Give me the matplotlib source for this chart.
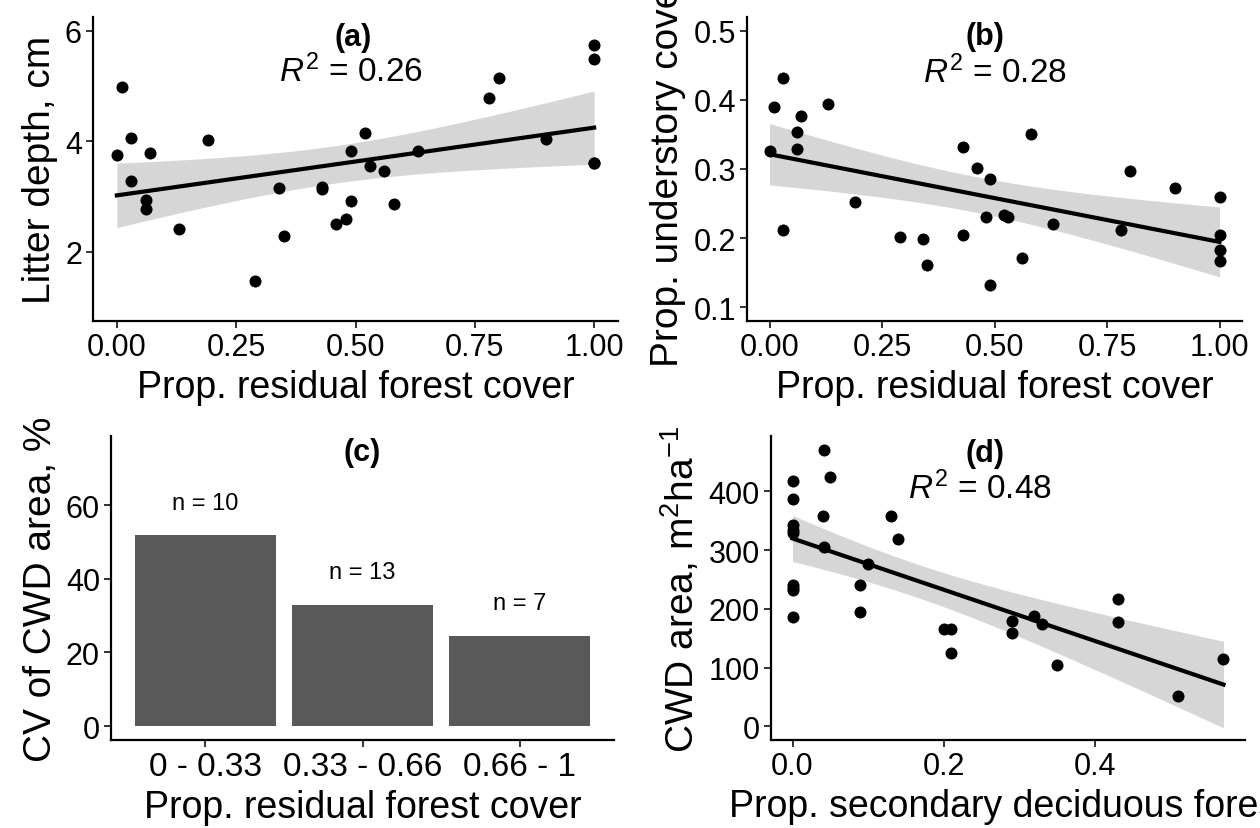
import numpy as np
import matplotlib
matplotlib.use("Agg")
import matplotlib.pyplot as plt

plt.rcParams['font.family'] = ['Liberation Sans', 'DejaVu Sans']
plt.rcParams['mathtext.fontset'] = 'custom'
plt.rcParams['mathtext.rm'] = 'Liberation Sans'
plt.rcParams['mathtext.it'] = 'Liberation Sans:italic'
plt.rcParams['mathtext.bf'] = 'Liberation Sans:bold'

# ---------------- data ----------------
# (a) litter depth vs residual forest cover
a_x = [0.00, 0.01, 0.03, 0.03, 0.07, 0.06, 0.06, 0.13, 0.19, 0.29,
       0.34, 0.35, 0.43, 0.43, 0.46, 0.48, 0.49, 0.49, 0.52, 0.53,
       0.56, 0.58, 0.63, 0.78, 0.80, 0.90, 1.00, 1.00, 1.00, 1.00]
a_y = [3.75, 4.99, 4.06, 3.28, 3.79, 2.94, 2.78, 2.42, 4.02, 1.48,
       3.15, 2.28, 3.18, 3.13, 2.51, 2.59, 3.83, 2.93, 4.15, 3.56,
       3.47, 2.87, 3.82, 4.78, 5.14, 4.04, 5.75, 5.49, 3.61, 3.61]

# (b) understory cover vs residual forest cover
b_x = [0.00, 0.01, 0.03, 0.03, 0.06, 0.06, 0.07, 0.13, 0.19, 0.29,
       0.34, 0.35, 0.43, 0.43, 0.46, 0.48, 0.49, 0.49, 0.52, 0.53,
       0.56, 0.58, 0.63, 0.78, 0.80, 0.90, 1.00, 1.00, 1.00, 1.00]
b_y = [0.326, 0.390, 0.431, 0.212, 0.354, 0.329, 0.377, 0.394, 0.252, 0.201,
       0.198, 0.161, 0.332, 0.205, 0.301, 0.230, 0.285, 0.132, 0.233, 0.230,
       0.171, 0.351, 0.220, 0.212, 0.297, 0.272, 0.259, 0.205, 0.183, 0.167]

# (c) CV of CWD area by cover class
c_cats = ['0 - 0.33', '0.33 - 0.66', '0.66 - 1']
c_vals = [51.8, 33.0, 24.5]
c_n = ['n = 10', 'n = 13', 'n = 7']

# (d) CWD area vs secondary deciduous forest
d_x = [0.00, 0.00, 0.00, 0.00, 0.00, 0.00, 0.00, 0.00, 0.00, 0.041,
       0.050, 0.040, 0.041, 0.100, 0.089, 0.089, 0.130, 0.140, 0.200, 0.210,
       0.210, 0.290, 0.290, 0.320, 0.330, 0.350, 0.430, 0.430, 0.510, 0.570]
d_y = [417, 388, 342, 335, 329, 241, 236, 232, 186, 471,
       424, 358, 305, 277, 241, 195, 359, 319, 166, 166,
       124, 180, 159, 187, 174, 104, 216, 178, 52, 114]

T95 = 2.05  # t quantile for 95% CI

POINT = '#000000'
BAND = '#d6d6d6'
BAR = '#595959'

TICK = 22
TITLE_X = 27
TITLE_Y = 28

W, H = 1260, 829
fig = plt.figure(figsize=(W / 100, H / 100), dpi=100)


def add_ax(l, r, t, b):
    return fig.add_axes([l / W, 1 - b / H, (r - l) / W, (b - t) / H])


def style(ax):
    for s in ['top', 'right']:
        ax.spines[s].set_visible(False)
    for s in ['left', 'bottom']:
        ax.spines[s].set_linewidth(1.6)
        ax.spines[s].set_color('black')
    ax.tick_params(axis='both', labelsize=TICK, length=5, width=1.4,
                   color='#333333', labelcolor='black', pad=3)


def lm_band(ax, x, y, xlo, xhi):
    x = np.asarray(x, float)
    y = np.asarray(y, float)
    n = len(x)
    slope, icpt = np.polyfit(x, y, 1)
    resid = y - (icpt + slope * x)
    s = np.sqrt(np.sum(resid ** 2) / (n - 2))
    xm = x.mean()
    sxx = np.sum((x - xm) ** 2)
    xs = np.linspace(xlo, xhi, 80)
    fit = icpt + slope * xs
    se = s * np.sqrt(1 / n + (xs - xm) ** 2 / sxx)
    ax.fill_between(xs, fit - T95 * se, fit + T95 * se, color=BAND, lw=0, zorder=1)
    ax.plot(xs, fit, color='black', lw=3, zorder=3)


def r2text(ax, x, y, val):
    ax.text(x, y, r'$\mathit{R}^{2}$' + ' = ' + val, ha='center', va='center',
            fontsize=24, zorder=5)


def tag(ax, x, y, s):
    ax.text(x, y, s, ha='center', va='center', fontsize=22, fontweight='bold', zorder=5)


# ---------- panel a ----------
axA = add_ax(93, 618, 18, 322)
style(axA)
lm_band(axA, a_x, a_y, 0, 1)
axA.scatter(a_x, a_y, s=75, color=POINT, zorder=4, linewidths=0)
axA.set_xlim(-0.05, 1.05)
axA.set_ylim(0.75, 6.25)
axA.set_xticks([0, 0.25, 0.5, 0.75, 1.0])
axA.set_xticklabels(['0.00', '0.25', '0.50', '0.75', '1.00'])
axA.set_yticks([2, 4, 6])
axA.set_xlabel('Prop. residual forest cover', fontsize=TITLE_X, labelpad=5)
axA.set_ylabel('Litter depth, cm', fontsize=TITLE_Y, labelpad=5)
tag(axA, 0.495, 5.89, '(a)')
r2text(axA, 0.49, 5.27, '0.26')

# ---------- panel b ----------
axB = add_ax(747, 1242, 18, 322)
style(axB)
lm_band(axB, b_x, b_y, 0, 1)
axB.scatter(b_x, b_y, s=75, color=POINT, zorder=4, linewidths=0)
axB.set_xlim(-0.05, 1.05)
axB.set_ylim(0.08, 0.52)
axB.set_xticks([0, 0.25, 0.5, 0.75, 1.0])
axB.set_xticklabels(['0.00', '0.25', '0.50', '0.75', '1.00'])
axB.set_yticks([0.1, 0.2, 0.3, 0.4, 0.5])
axB.set_yticklabels(['0.1', '0.2', '0.3', '0.4', '0.5'])
axB.set_xlabel('Prop. residual forest cover', fontsize=TITLE_X, labelpad=5)
axB.set_ylabel('Prop. understory cover', fontsize=TITLE_Y, labelpad=5)
tag(axB, 0.478, 0.4925, '(b)')
r2text(axB, 0.5, 0.44, '0.28')

# ---------- panel c ----------
axC = add_ax(111, 614, 437, 741)
style(axC)
xc = np.arange(1, len(c_cats) + 1)
axC.bar(xc, c_vals, width=0.9, color=BAR, zorder=2)
for xi, v, lab in zip(xc, c_vals, c_n):
    axC.text(xi, v + 8.9, lab, ha='center', va='center', fontsize=17)
axC.set_xlim(0.4, 3.6)
axC.set_ylim(-3.75, 78.75)
axC.set_xticks(xc)
axC.set_xticklabels(c_cats)
axC.tick_params(axis='x', labelsize=24)
axC.set_yticks([0, 20, 40, 60])
axC.set_xlabel('Prop. residual forest cover', fontsize=TITLE_X, labelpad=5)
axC.set_ylabel('CV of CWD area, %', fontsize=TITLE_Y, labelpad=5)
tag(axC, 2, 74.4, '(c)')

# ---------- panel d ----------
axD = add_ax(771, 1245, 437, 741)
style(axD)
lm_band(axD, d_x, d_y, 0, max(d_x))
axD.scatter(d_x, d_y, s=75, color=POINT, zorder=4, linewidths=0)
axD.set_xlim(-0.0285, 0.5985)
axD.set_ylim(-23.5, 494.5)
axD.set_xticks([0, 0.2, 0.4])
axD.set_xticklabels(['0.0', '0.2', '0.4'])
axD.set_yticks([0, 100, 200, 300, 400])
axD.set_xlabel('Prop. secondary deciduous forest', fontsize=TITLE_X, labelpad=5)
axD.set_ylabel(r'CWD area, m$^{2}$ha$^{-1}$', fontsize=TITLE_Y, labelpad=5)
tag(axD, 0.254, 465, '(d)')
r2text(axD, 0.248, 406, '0.48')

fig.savefig('out.png', dpi=100)
